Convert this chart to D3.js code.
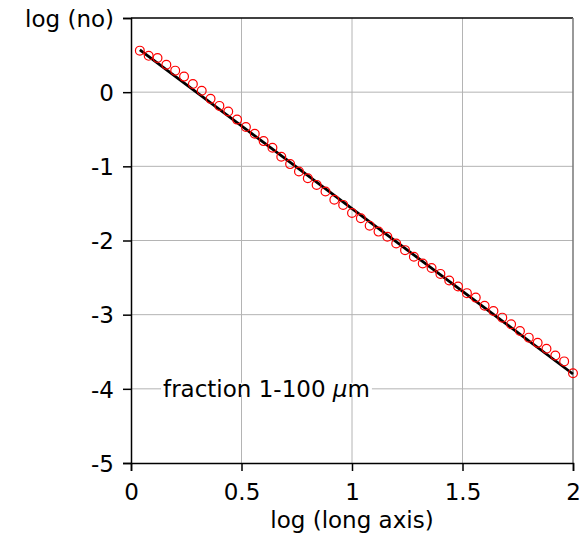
<!DOCTYPE html>
<html>
<head>
<meta charset="utf-8">
<script src="https://cdn.jsdelivr.net/npm/d3@7"></script>
<style>
  body { margin: 0; background: #fff; }
  text { font-family: "DejaVu Sans", sans-serif; fill: #000; }
</style>
</head>
<body>
<div id="container"></div>
<script>
// measured points (log long axis vs log no)
const xVals = [0.04, 0.08, 0.12, 0.16, 0.20, 0.24, 0.28, 0.32, 0.36, 0.40,
  0.44, 0.48, 0.52, 0.56, 0.60, 0.64, 0.68, 0.72, 0.76, 0.80,
  0.84, 0.88, 0.92, 0.96, 1.00, 1.04, 1.08, 1.12, 1.16, 1.20,
  1.24, 1.28, 1.32, 1.36, 1.40, 1.44, 1.48, 1.52, 1.56, 1.60,
  1.64, 1.68, 1.72, 1.76, 1.80, 1.84, 1.88, 1.92, 1.96, 2.00];
const yVals = [0.56, 0.49, 0.46, 0.37, 0.29, 0.21, 0.11, 0.02, -0.09, -0.185,
  -0.26, -0.37, -0.47, -0.56, -0.66, -0.75, -0.87, -0.97, -1.07, -1.16,
  -1.25, -1.34, -1.45, -1.52, -1.63, -1.70, -1.80, -1.88, -1.95, -2.04,
  -2.13, -2.22, -2.31, -2.37, -2.45, -2.54, -2.62, -2.71, -2.77, -2.88,
  -2.95, -3.04, -3.13, -3.22, -3.31, -3.38, -3.46, -3.55, -3.63, -3.79];

// fitted line end points
const fitX = [0.04, 2.0];
const fitY = [0.57, -3.80];

const xTicks = [0, 0.5, 1, 1.5, 2];
const yTicks = [-5, -4, -3, -2, -1, 0, 1];

const W = 583, H = 544;
const margin = {top: 18, right: 10, bottom: 81, left: 131};
const width = W - margin.left - margin.right;
const height = H - margin.top - margin.bottom;

const svg = d3.select("#container").append("svg")
  .attr("width", W)
  .attr("height", H)
  .append("g")
  .attr("transform", `translate(${margin.left},${margin.top})`);

const x = d3.scaleLinear().domain([0, 2]).range([0, width]);
const y = d3.scaleLinear().domain([-5, 1]).range([height, 0]);

// grid
svg.append("g").selectAll("line")
  .data(xTicks.slice(1, -1))
  .enter().append("line")
  .attr("x1", d => x(d)).attr("x2", d => x(d))
  .attr("y1", 0).attr("y2", height)
  .attr("stroke", "#b4b4b4").attr("stroke-width", 1);

svg.append("g").selectAll("line")
  .data(yTicks.slice(1, -1))
  .enter().append("line")
  .attr("y1", d => y(d)).attr("y2", d => y(d))
  .attr("x1", 0).attr("x2", width)
  .attr("stroke", "#b4b4b4").attr("stroke-width", 1);

// frame top / right
svg.append("line")
  .attr("x1", 0).attr("x2", width).attr("y1", y(1)).attr("y2", y(1))
  .attr("stroke", "#000").attr("stroke-width", 1.5);
svg.append("line")
  .attr("x1", width).attr("x2", width).attr("y1", 0).attr("y2", height)
  .attr("stroke", "#777").attr("stroke-width", 1.5);

// axes
const yAxis = svg.append("g")
  .call(d3.axisLeft(y).tickValues(yTicks).tickSize(8).tickPadding(9)
    .tickFormat(d => d === 1 ? "log (no)" : String(d)));
const xAxis = svg.append("g")
  .attr("transform", `translate(0,${height})`)
  .call(d3.axisBottom(x).tickValues(xTicks).tickSize(8).tickPadding(13)
    .tickFormat(d => String(d)));

[xAxis, yAxis].forEach(a => {
  a.select(".domain").attr("stroke", "#000").attr("stroke-width", 1.5);
  a.selectAll(".tick line").attr("stroke", "#000").attr("stroke-width", 1.5);
  a.selectAll("text").style("font-size", "23px").attr("fill", "#000");
});
yAxis.selectAll(".tick text").attr("dy", "0.36em");

// label in plot
const note = svg.append("g")
  .attr("transform", `translate(${x(0.145)},${y(-4)})`);
const noteText = note.append("text")
  .attr("dy", "0.35em")
  .style("font-size", "23px");
noteText.append("tspan").text("fraction 1-100 ");
noteText.append("tspan").style("font-style", "italic").text("\u03bc");
noteText.append("tspan").text("m");
const bb = noteText.node().getBBox();
note.insert("rect", "text")
  .attr("x", bb.x - 2).attr("y", -6)
  .attr("width", bb.width + 4).attr("height", 12)
  .attr("fill", "#fff");

// x axis title
svg.append("text")
  .attr("x", width / 2)
  .attr("y", height + 65)
  .attr("text-anchor", "middle")
  .style("font-size", "23px")
  .text("log (long axis)");

// fit line
const line = d3.line().x(d => x(d[0])).y(d => y(d[1]));
svg.append("path")
  .datum(fitX.map((d, i) => [d, fitY[i]]))
  .attr("d", line)
  .attr("fill", "none")
  .attr("stroke", "#000")
  .attr("stroke-width", 2.8);

// points
svg.append("g").selectAll("circle")
  .data(xVals.map((d, i) => [d, yVals[i]]))
  .enter().append("circle")
  .attr("cx", d => x(d[0]))
  .attr("cy", d => y(d[1]))
  .attr("r", 4.4)
  .attr("fill", "none")
  .attr("stroke", "#f00")
  .attr("stroke-width", 1.2);
</script>
</body>
</html>
